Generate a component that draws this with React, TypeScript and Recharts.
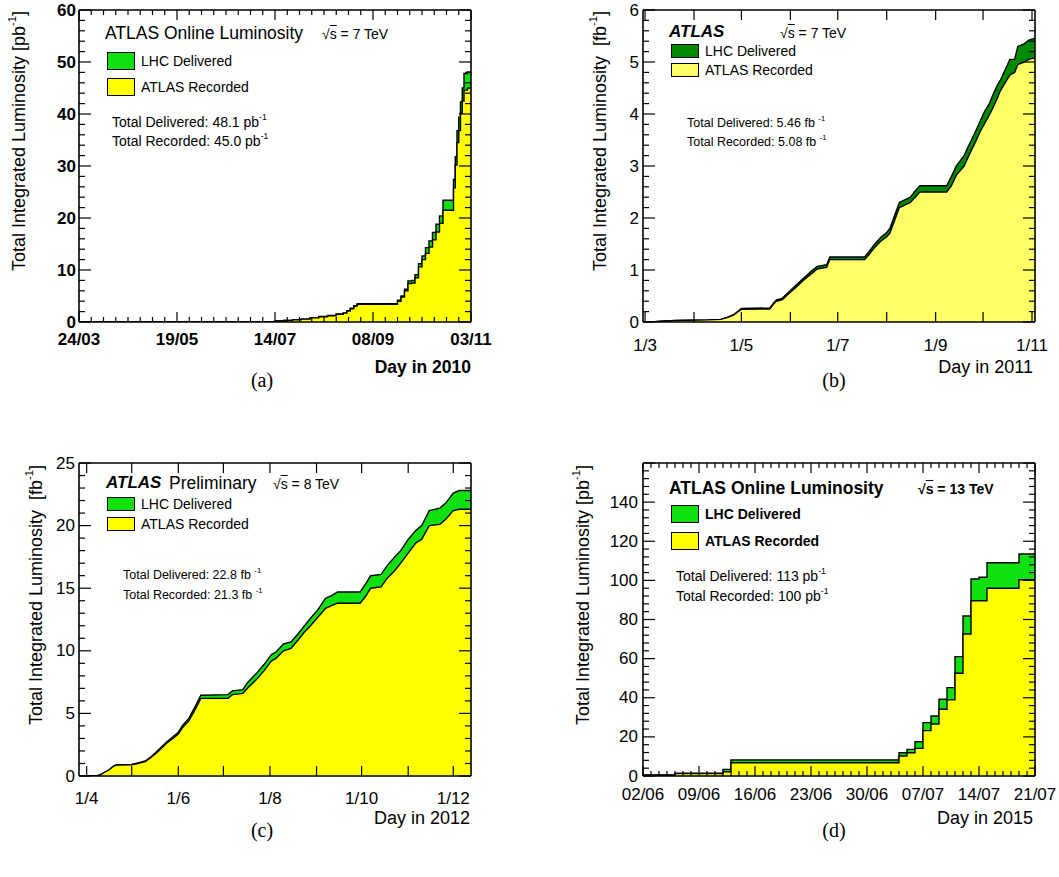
import React from 'react';
import { ComposedChart, Area, XAxis, YAxis, Legend, ReferenceLine } from 'recharts';

const SANS = '"Liberation Sans", Arial, Helvetica, sans-serif';
const SERIF = '"Liberation Serif", "Times New Roman", serif';

// (a) 2010, day of year, pb^-1
const daysA = [83, 180, 195, 200, 205, 210, 215, 220, 225, 230, 234, 236, 238, 240, 242, 265, 267, 269, 271, 273, 275, 277, 279, 281, 283, 285, 287, 289, 291, 297, 298, 299, 300, 301, 302, 303, 305, 307];
const deliveredA = [0, 0.05, 0.2, 0.3, 0.4, 0.55, 0.8, 1.05, 1.25, 1.55, 1.75, 2.15, 2.65, 3.15, 3.5, 4.2, 5.0, 6.3, 7.9, 8.0, 9.1, 11.2, 12.7, 14.3, 15.6, 17.2, 18.8, 20.4, 23.4, 27.4, 31.8, 36.8, 39.4, 42.3, 45.0, 47.8, 48.1, 48.1];
const recordedA = [0, 0.05, 0.2, 0.3, 0.4, 0.55, 0.8, 1.0, 1.2, 1.5, 1.7, 2.1, 2.55, 3.05, 3.4, 4.0, 4.8, 6.0, 7.4, 7.5, 8.5, 10.6, 12.0, 13.2, 14.4, 15.8, 17.3, 19.0, 21.5, 25.8, 30.2, 34.5, 36.8, 40.2, 42.5, 44.6, 45.0, 45.0];
const xMajorA = [83, 139, 195, 251, 307];
const xLabelsA = ['24/03', '19/05', '14/07', '08/09', '03/11'];
const yMajorA = [0, 10, 20, 30, 40, 50, 60];
const yLabelsA = ['0', '10', '20', '30', '40', '50', '60'];

// (b) 2011, day of year, fb^-1
const daysB = [59, 66, 72, 80, 100, 108, 112, 116, 121, 139, 141, 143, 147, 150, 156, 161, 165, 169, 175, 177, 199, 202, 205, 209, 213, 215, 218, 221, 228, 231, 234, 251, 254, 257, 262, 265, 269, 272, 275, 278, 280, 283, 285, 288, 291, 294, 296, 300, 303, 307];
const deliveredB = [0, 0.005, 0.02, 0.03, 0.04, 0.05, 0.09, 0.14, 0.26, 0.27, 0.35, 0.42, 0.46, 0.55, 0.72, 0.86, 0.97, 1.07, 1.1, 1.25, 1.25, 1.36, 1.48, 1.62, 1.72, 1.8, 2.05, 2.3, 2.4, 2.52, 2.62, 2.62, 2.8, 3.0, 3.2, 3.4, 3.65, 3.85, 4.05, 4.2, 4.35, 4.55, 4.65, 4.85, 5.05, 5.05, 5.3, 5.35, 5.42, 5.46];
const recordedB = [0, 0.005, 0.02, 0.03, 0.04, 0.05, 0.085, 0.13, 0.245, 0.25, 0.33, 0.4, 0.43, 0.52, 0.68, 0.82, 0.92, 1.02, 1.05, 1.2, 1.2, 1.3, 1.42, 1.55, 1.64, 1.71, 1.95, 2.2, 2.3, 2.4, 2.5, 2.5, 2.62, 2.82, 3.0, 3.2, 3.45, 3.65, 3.82, 3.98, 4.1, 4.3, 4.45, 4.6, 4.75, 4.8, 4.95, 5.0, 5.05, 5.08];
const monthTicksB = [60, 91, 121, 152, 182, 213, 244, 274, 305];
const xMajorB = [60, 121, 182, 244, 305];
const xLabelsB = ['1/3', '1/5', '1/7', '1/9', '1/11'];
const yMajorB = [0, 1, 2, 3, 4, 5, 6];
const yLabelsB = ['0', '1', '2', '3', '4', '5', '6'];

// (c) 2012, day of year, fb^-1
const daysC = [87, 99, 101, 104, 107, 110, 112, 122, 126, 131, 135, 139, 145, 150, 153, 156, 160, 164, 168, 186, 189, 196, 199, 205, 210, 215, 218, 223, 228, 233, 237, 241, 246, 251, 255, 259, 274, 278, 281, 288, 292, 297, 301, 306, 311, 315, 320, 327, 331, 336, 340, 348];
const deliveredC = [0, 0, 0.1, 0.3, 0.5, 0.8, 0.9, 0.92, 1.05, 1.2, 1.55, 2.0, 2.7, 3.2, 3.5, 4.05, 4.6, 5.5, 6.45, 6.5, 6.8, 6.9, 7.45, 8.2, 8.9, 9.7, 9.9, 10.55, 10.7, 11.4, 12.0, 12.6, 13.3, 14.2, 14.4, 14.7, 14.7, 15.4, 16.0, 16.1, 16.8, 17.5, 18.0, 18.9, 19.6, 20.0, 21.2, 21.4, 21.8, 22.6, 22.8, 22.8];
const recordedC = [0, 0, 0.1, 0.3, 0.5, 0.8, 0.88, 0.9, 1.0, 1.15, 1.5, 1.9, 2.6, 3.05, 3.35, 3.9, 4.4, 5.25, 6.2, 6.2, 6.5, 6.6, 7.0, 7.7, 8.4, 9.2, 9.4, 10.0, 10.2, 10.9, 11.5, 12.0, 12.7, 13.4, 13.6, 13.8, 13.8, 14.4, 15.0, 15.1, 15.8, 16.4, 17.0, 17.8, 18.6, 18.9, 20.0, 20.1, 20.5, 21.2, 21.3, 21.3];
const monthTicksC = [92, 122, 153, 183, 214, 245, 275, 306, 336];
const xMajorC = [92, 153, 214, 275, 336];
const xLabelsC = ['1/4', '1/6', '1/8', '1/10', '1/12'];
const yMajorC = [0, 5, 10, 15, 20, 25];
const yLabelsC = ['0', '5', '10', '15', '20', '25'];

// (d) 2015, days after 02/06, pb^-1
const daysD = [0, 4, 10, 11, 32, 33, 34, 35, 36, 37, 38, 39, 40, 41, 42, 43, 47, 49];
const deliveredD = [0.5, 1.4, 3.4, 8.2, 11.9, 13.6, 17.5, 27.3, 30.7, 39.2, 45.2, 61.0, 81.8, 100.7, 101.6, 109.0, 113.5, 113.5];
const recordedD = [0.4, 1.2, 2.2, 6.8, 10.2, 11.9, 14.1, 23.2, 26.6, 34.1, 38.9, 52.5, 72.6, 89.6, 89.6, 96.0, 100.3, 100.3];
const xMajorD = [0, 7, 14, 21, 28, 35, 42, 49];
const xLabelsD = ['02/06', '09/06', '16/06', '23/06', '30/06', '07/07', '14/07', '21/07'];
const yMarksD = [0, 20, 40, 60, 80, 100, 120, 140, 160];
const yMajorD = [0, 20, 40, 60, 80, 100, 120, 140];
const yLabelsD = ['0', '20', '40', '60', '80', '100', '120', '140'];

const range = (a: number, b: number, step: number) => {
  const out: number[] = [];
  for (let i = 0; a + i * step <= b + 1e-9; i++) out.push(Math.round((a + i * step) * 1000) / 1000);
  return out;
};
const without = (list: number[], remove: number[]) => list.filter((v) => !remove.some((r) => Math.abs(r - v) < 1e-6));
const rows = (days: number[], del: number[], rec: number[]) =>
  days.map((day, i) => ({ day, delivered: del[i], recorded: rec[i] }));

// label-only tick renderer (the inward tick marks are drawn as reference segments)
const makeLabel = (side: 'bottom' | 'left', majors: number[], labels: string[], font: { size: number; bold: boolean; off: number }) =>
  (props: any) => {
    const { x, y, payload } = props;
    const idx = majors.findIndex((m) => Math.abs(m - payload?.value) < 1e-6);
    const label = idx >= 0 ? labels[idx] : '';
    const ts = { fontFamily: SANS, fontSize: font.size, fontWeight: font.bold ? 700 : 400, fill: '#000' };
    return side === 'bottom' ? (
      <text x={x} y={y + font.off} textAnchor="middle" dominantBaseline="central" style={ts}>{label}</text>
    ) : (
      <text x={x - font.off} y={y} textAnchor="end" dominantBaseline="central" style={ts}>{label}</text>
    );
  };

const X_H = 50;
const Y_W = 60;

interface PanelSpec {
  id: string;
  box: { left: number; top: number; width: number; height: number };
  plot: { x0: number; y0: number; x1: number; y1: number };
  data: { day: number; delivered: number; recorded: number }[];
  curve: 'stepAfter' | 'linear';
  xDomain: [number, number];
  xLabelTicks: number[];
  xLabels: string[];
  xMarks: [number[], number[]];
  yDomain: [number, number];
  yLabelTicks: number[];
  yLabels: string[];
  yMarks: [number[], number[]];
  tickFont: { size: number; bold: boolean };
  xOff: number;
  yOff: number;
  green: string;
  yellow: string;
  legend: { x: number; y: number; boxH: number; pitch: number; size: number; bold: boolean; border: number };
}

const panels: PanelSpec[] = [
  {
    id: 'a', box: { left: 0, top: 0, width: 520, height: 400 }, plot: { x0: 79, y0: 10, x1: 471, y1: 322 },
    data: rows(daysA, deliveredA, recordedA), curve: 'stepAfter',
    xDomain: [83, 307], xLabelTicks: xMajorA, xLabels: xLabelsA, xMarks: [xMajorA, without(range(83, 307, 7), xMajorA)],
    yDomain: [0, 60], yLabelTicks: yMajorA, yLabels: yLabelsA, yMarks: [yMajorA, without(range(0, 60, 2), yMajorA)],
    tickFont: { size: 17, bold: true }, xOff: 17, yOff: 3,
    green: '#10e010', yellow: '#ffff00',
    legend: { x: 107, y: 52, boxH: 18, pitch: 25.5, size: 14, bold: false, border: 1.5 },
  },
  {
    id: 'b', box: { left: 560, top: 0, width: 499, height: 400 }, plot: { x0: 643, y0: 10, x1: 1035, y1: 322 },
    data: rows(daysB, deliveredB, recordedB), curve: 'linear',
    xDomain: [58.7, 306.9], xLabelTicks: xMajorB, xLabels: xLabelsB, xMarks: [monthTicksB, []],
    yDomain: [0, 6], yLabelTicks: yMajorB, yLabels: yLabelsB, yMarks: [yMajorB, without(range(0, 6, 0.2), yMajorB)],
    tickFont: { size: 17, bold: false }, xOff: 23, yOff: 4,
    green: '#008a00', yellow: '#ffff66',
    legend: { x: 671, y: 44, boxH: 14, pitch: 19, size: 14, bold: false, border: 1 },
  },
  {
    id: 'c', box: { left: 0, top: 440, width: 520, height: 400 }, plot: { x0: 79, y0: 463, x1: 471, y1: 776 },
    data: rows(daysC, deliveredC, recordedC), curve: 'linear',
    xDomain: [86.9, 347.8], xLabelTicks: xMajorC, xLabels: xLabelsC, xMarks: [monthTicksC, []],
    yDomain: [0, 25], yLabelTicks: yMajorC, yLabels: yLabelsC, yMarks: [yMajorC, without(range(0, 25, 1), yMajorC)],
    tickFont: { size: 17, bold: false }, xOff: 22, yOff: 4,
    green: '#10e010', yellow: '#ffff00',
    legend: { x: 107, y: 497, boxH: 14, pitch: 20, size: 14, bold: false, border: 1.2 },
  },
  {
    id: 'd', box: { left: 560, top: 440, width: 499, height: 400 }, plot: { x0: 643, y0: 463, x1: 1035, y1: 776 },
    data: rows(daysD, deliveredD, recordedD), curve: 'stepAfter',
    xDomain: [0, 49], xLabelTicks: xMajorD, xLabels: xLabelsD, xMarks: [xMajorD, without(range(0, 49, 1), xMajorD)],
    yDomain: [0, 160], yLabelTicks: yMajorD, yLabels: yLabelsD, yMarks: [yMarksD, without(range(0, 160, 4), yMarksD)],
    tickFont: { size: 17, bold: false }, xOff: 18, yOff: 5,
    green: '#10e010', yellow: '#ffff00',
    legend: { x: 671, y: 505, boxH: 18, pitch: 27, size: 14, bold: true, border: 1.5 },
  },
];

const TICK = { stroke: '#000', strokeWidth: 1.2 };
const FRAME = { stroke: '#000', strokeWidth: 1.6 };

function tickMarks(p: PanelSpec) {
  const [x0, x1] = p.xDomain;
  const [y0, y1] = p.yDomain;
  const dxPerPx = (x1 - x0) / (p.plot.x1 - p.plot.x0);
  const dyPerPx = (y1 - y0) / (p.plot.y1 - p.plot.y0);
  const out: React.ReactNode[] = [];
  p.xMarks.forEach((list, k) => {
    const len = (k === 0 ? 10 : 5) * dyPerPx;
    list.forEach((v) => {
      out.push(<ReferenceLine key={`xb${v}`} xAxisId="b" yAxisId="l" segment={[{ x: v, y: y0 }, { x: v, y: y0 + len }]} {...TICK} />);
      out.push(<ReferenceLine key={`xt${v}`} xAxisId="b" yAxisId="l" segment={[{ x: v, y: y1 }, { x: v, y: y1 - len }]} {...TICK} />);
    });
  });
  p.yMarks.forEach((list, k) => {
    const len = (k === 0 ? 12 : 6) * dxPerPx;
    list.forEach((v) => {
      out.push(<ReferenceLine key={`yl${v}`} xAxisId="b" yAxisId="l" segment={[{ x: x0, y: v }, { x: x0 + len, y: v }]} {...TICK} />);
      out.push(<ReferenceLine key={`yr${v}`} xAxisId="b" yAxisId="l" segment={[{ x: x1, y: v }, { x: x1 - len, y: v }]} {...TICK} />);
    });
  });
  return out;
}

function Panel({ p }: { p: PanelSpec }) {
  const margin = {
    top: p.plot.y0 - p.box.top,
    left: p.plot.x0 - p.box.left - Y_W,
    right: p.box.left + p.box.width - p.plot.x1,
    bottom: p.box.top + p.box.height - p.plot.y1 - X_H,
  };
  const items = [
    { name: 'LHC Delivered', fill: p.green },
    { name: 'ATLAS Recorded', fill: p.yellow },
  ];
  const lg = p.legend;
  return (
    <div style={{ position: 'absolute', left: p.box.left, top: p.box.top }}>
      <ComposedChart width={p.box.width} height={p.box.height} data={p.data} margin={margin}>
        <Area xAxisId="b" yAxisId="l" dataKey="delivered" name="LHC Delivered" type={p.curve} fill={p.green} fillOpacity={1} stroke="#000" strokeWidth={1.4} dot={false} activeDot={false} isAnimationActive={false} />
        <Area xAxisId="b" yAxisId="l" dataKey="recorded" name="ATLAS Recorded" type={p.curve} fill={p.yellow} fillOpacity={1} stroke="#000" strokeWidth={1.4} dot={false} activeDot={false} isAnimationActive={false} />
        <XAxis xAxisId="b" dataKey="day" type="number" domain={p.xDomain} allowDataOverflow ticks={p.xLabelTicks} interval={0}
          height={X_H} tickSize={0} tickMargin={0} tickLine={false} axisLine={FRAME}
          tick={makeLabel('bottom', p.xLabelTicks, p.xLabels, { ...p.tickFont, off: p.xOff })} />
        <YAxis yAxisId="l" type="number" domain={p.yDomain} allowDataOverflow ticks={p.yLabelTicks} interval={0}
          width={Y_W} tickSize={0} tickMargin={0} tickLine={false} axisLine={FRAME}
          tick={makeLabel('left', p.yLabelTicks, p.yLabels, { ...p.tickFont, off: p.yOff })} />
        <ReferenceLine xAxisId="b" yAxisId="l" y={p.yDomain[1]} {...FRAME} />
        <ReferenceLine xAxisId="b" yAxisId="l" x={p.xDomain[1]} {...FRAME} />
        {tickMarks(p)}
        <Legend layout="vertical" align="center" verticalAlign="middle"
          wrapperStyle={{ left: lg.x - p.box.left, top: lg.y - p.box.top, width: 220, height: lg.pitch * 2 }}
          content={() => (
            <div style={{ position: 'relative', width: 220, height: lg.pitch * 2 }}>
              {items.map((it, i) => (
                <div key={it.name} style={{ position: 'absolute', left: 0, top: i * lg.pitch, height: lg.boxH, display: 'flex', alignItems: 'center' }}>
                  <div style={{ width: 28, height: lg.boxH, boxSizing: 'border-box', border: `${lg.border}px solid #000`, background: it.fill }} />
                  <span style={{ marginLeft: 6, fontFamily: SANS, fontSize: lg.size, fontWeight: lg.bold ? 700 : 400, whiteSpace: 'nowrap', color: '#000' }}>{it.name}</span>
                </div>
              ))}
            </div>
          )} />
      </ComposedChart>
    </div>
  );
}

const Txt = ({ x, y, size, bold = false, italic = false, anchor = 'start', family = SANS, children }: any) => {
  const tx = anchor === 'end' ? '-100%' : anchor === 'middle' ? '-50%' : '0';
  return (
    <div style={{ position: 'absolute', left: x, top: y, transform: `translate(${tx}, -50%)`, fontFamily: family, fontSize: size, fontWeight: bold ? 700 : 400, fontStyle: italic ? 'italic' : 'normal', lineHeight: 1.15, whiteSpace: 'nowrap', color: '#000' }}>
      {children}
    </div>
  );
};

const VTxt = ({ x, y, size, children }: any) => (
  <div style={{ position: 'absolute', left: x, top: y, transform: 'translate(-50%, -50%) rotate(-90deg)', fontFamily: SANS, fontSize: size, lineHeight: 1.15, whiteSpace: 'nowrap', color: '#000' }}>
    {children}
  </div>
);

const Sup = ({ children }: any) => <sup style={{ fontSize: '0.62em', verticalAlign: '0.75em', lineHeight: 0 }}>{children}</sup>;
const Sqrt = ({ children }: any) => <span>√<span style={{ textDecoration: 'overline' }}>{children}</span></span>;

export default function App() {
  return (
    <div style={{ position: 'absolute', left: 0, top: 0, width: 1059, height: 877, background: '#fff', overflow: 'hidden' }}>
      {panels.map((p) => <Panel key={p.id} p={p} />)}

      {/* (a) */}
      <Txt x={105} y={33} size={17.5}>ATLAS Online Luminosity</Txt>
      <Txt x={322} y={34} size={14}><Sqrt>s</Sqrt> = 7 TeV</Txt>
      <Txt x={112} y={122} size={14}>Total Delivered: 48.1 pb<Sup>-1</Sup></Txt>
      <Txt x={112} y={141} size={14}>Total Recorded: 45.0 pb<Sup>-1</Sup></Txt>
      <VTxt x={19} y={141} size={18}>Total Integrated Luminosity [pb<Sup>-1</Sup>]</VTxt>
      <Txt x={471} y={367} size={17.5} bold anchor="end">Day in 2010</Txt>
      <Txt x={262} y={380} size={20} family={SERIF} anchor="middle">(a)</Txt>

      {/* (b) */}
      <Txt x={669} y={32} size={17} bold italic>ATLAS</Txt>
      <Txt x={780} y={33} size={14}><Sqrt>s</Sqrt> = 7 TeV</Txt>
      <Txt x={687} y={123} size={12.5}>Total Delivered: 5.46 fb <Sup>-1</Sup></Txt>
      <Txt x={687} y={142} size={12.5}>Total Recorded: 5.08 fb <Sup>-1</Sup></Txt>
      <VTxt x={600} y={141} size={18}>Total Integrated Luminosity&nbsp;&nbsp;[fb<Sup>-1</Sup>]</VTxt>
      <Txt x={1033} y={367} size={18} anchor="end">Day in 2011</Txt>
      <Txt x={834} y={380} size={20} family={SERIF} anchor="middle">(b)</Txt>

      {/* (c) */}
      <Txt x={106} y={483} size={17} bold italic>ATLAS</Txt>
      <Txt x={169} y={483} size={17.5}>Preliminary</Txt>
      <Txt x={273} y={484} size={14}><Sqrt>s</Sqrt> = 8 TeV</Txt>
      <Txt x={123} y={575} size={12.5}>Total Delivered: 22.8 fb <Sup>-1</Sup></Txt>
      <Txt x={123} y={595} size={12.5}>Total Recorded: 21.3 fb <Sup>-1</Sup></Txt>
      <VTxt x={36} y={595} size={18}>Total Integrated Luminosity&nbsp;&nbsp;[fb<Sup>-1</Sup>]</VTxt>
      <Txt x={470} y={818} size={18} anchor="end">Day in 2012</Txt>
      <Txt x={262} y={830} size={20} family={SERIF} anchor="middle">(c)</Txt>

      {/* (d) */}
      <Txt x={669} y={488} size={17.5} bold>ATLAS Online Luminosity</Txt>
      <Txt x={918} y={489} size={14} bold><Sqrt>s</Sqrt> = 13 TeV</Txt>
      <Txt x={676} y={576} size={14}>Total Delivered: 113 pb<Sup>-1</Sup></Txt>
      <Txt x={676} y={596} size={14}>Total Recorded: 100 pb<Sup>-1</Sup></Txt>
      <VTxt x={583} y={595} size={18}>Total Integrated Luminosity [pb<Sup>-1</Sup>]</VTxt>
      <Txt x={1033} y={818} size={18} anchor="end">Day in 2015</Txt>
      <Txt x={834} y={830} size={20} family={SERIF} anchor="middle">(d)</Txt>
    </div>
  );
}
